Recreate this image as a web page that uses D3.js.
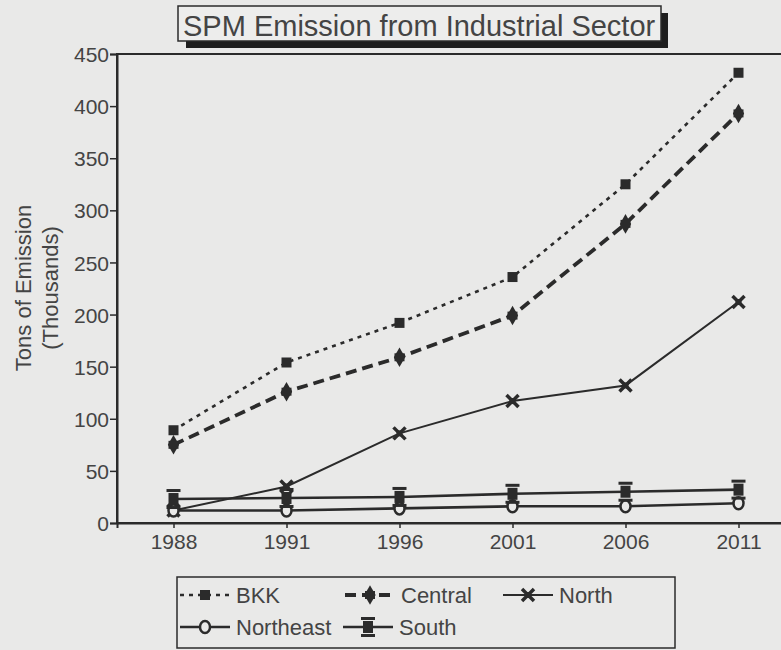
<!DOCTYPE html>
<html lang="en">
<head>
	<meta charset="UTF-8">
	<title>SPM Emission from Industrial Sector</title>
	<script src="https://d3js.org/d3.v7.min.js"></script>
	<style>
		body{margin:0;background:#e9e9e8;overflow:hidden;}
		svg{display:block;}
		text{font-family:"Liberation Sans",Arial,sans-serif;fill:#444;}
	</style>
</head>
<body>
	<script>
		var years = ["1988", "1991", "1996", "2001", "2006", "2011"];
		var names = ["BKK", "Central", "North", "Northeast", "South"];
		var bkk = [89, 154, 192, 236, 325, 432];
		var central = [75, 126, 159, 199, 287, 393];
		var north = [12, 35, 86, 117, 132, 212];
		var northeast = [12, 12, 14, 16, 16, 19];
		var south = [23, 24, 25, 28, 30, 32];
		var yTicks = [0, 50, 100, 150, 200, 250, 300, 350, 400, 450];

		var w = 781;
		var h = 650;
		var ink = "#2b2b2b";

		var series = [
			{name: names[0], values: bkk, dash: "4,5", width: 2.6, mark: "square"},
			{name: names[1], values: central, dash: "11,6", width: 3.8, mark: "diamond"},
			{name: names[2], values: north, dash: null, width: 2, mark: "cross"},
			{name: names[3], values: northeast, dash: null, width: 2.6, mark: "ring"},
			{name: names[4], values: south, dash: null, width: 2.6, mark: "ibeam"}
		];

		var svg = d3.select("body").append("svg")
			.attr("width", w)
			.attr("height", h);

		var x = d3.scalePoint().domain(years).range([117, 795]).padding(0.5);
		var y = d3.scaleLinear().domain([0, 450]).range([523, 54]);

		// frame (right side falls outside the picture)
		svg.append("rect")
			.attr("x", x.range()[0])
			.attr("y", y(450))
			.attr("width", x.range()[1] - x.range()[0])
			.attr("height", y(0) - y(450))
			.attr("fill", "none")
			.attr("stroke", ink)
			.attr("stroke-width", 2);

		var yAxis = svg.append("g")
			.attr("transform", "translate(" + x.range()[0] + ",0)")
			.call(d3.axisLeft(y).tickValues(yTicks).tickSize(7).tickPadding(1));
		var xAxis = svg.append("g")
			.attr("transform", "translate(0," + y(0) + ")")
			.call(d3.axisBottom(x).tickSize(5).tickPadding(6));

		[yAxis, xAxis].forEach(function(a){
			a.select(".domain").attr("stroke", ink).attr("stroke-width", 2);
			a.selectAll(".tick line").attr("stroke", ink).attr("stroke-width", 1.5);
			a.selectAll(".tick text")
				.attr("fill", "#444")
				.style("font-family", "'Liberation Sans',Arial,sans-serif")
				.style("font-size", "21px");
		});
		yAxis.selectAll(".tick text").attr("dy", "0.36em");

		// y label
		var yl = svg.append("g").attr("transform", "translate(0,288) rotate(-90)");
		yl.append("text").attr("x", 0).attr("y", 31).attr("text-anchor", "middle")
			.style("font-size", "22px").text("Tons of Emission");
		yl.append("text").attr("x", 0).attr("y", 58).attr("text-anchor", "middle")
			.style("font-size", "22px").text("(Thousands)");

		// title
		svg.append("rect").attr("x", 186).attr("y", 13).attr("width", 482).attr("height", 35).attr("fill", "#1e1e1e");
		svg.append("rect").attr("x", 178).attr("y", 6).attr("width", 483).attr("height", 35)
			.attr("fill", "#ededec").attr("stroke", ink).attr("stroke-width", 1.5);
		svg.append("text").attr("x", 183).attr("y", 36)
			.style("font-size", "29px").text("SPM Emission from Industrial Sector");

		function marker(g, kind){
			if(kind == "square"){
				g.append("rect").attr("x", -5).attr("y", -5).attr("width", 10).attr("height", 10).attr("fill", ink);
			}
			else if(kind == "diamond"){
				g.append("path").attr("d", d3.symbol(d3.symbolDiamond, 110)()).attr("fill", ink);
				g.append("rect").attr("x", -5).attr("y", -4).attr("width", 10).attr("height", 8).attr("fill", ink);
			}
			else if(kind == "cross"){
				g.append("path").attr("d", "M-6,-6L6,6M6,-6L-6,6").attr("stroke", ink).attr("stroke-width", 3.5);
				g.append("rect").attr("x", -3).attr("y", -3).attr("width", 6).attr("height", 6).attr("fill", ink);
			}
			else if(kind == "ring"){
				g.append("ellipse").attr("rx", 5).attr("ry", 6).attr("fill", "#e9e9e8").attr("stroke", ink).attr("stroke-width", 2.5);
			}
			else if(kind == "ibeam"){
				g.append("rect").attr("x", -7).attr("y", -10).attr("width", 14).attr("height", 3).attr("fill", ink);
				g.append("rect").attr("x", -5).attr("y", -6).attr("width", 10).attr("height", 12).attr("fill", ink);
				g.append("rect").attr("x", -7).attr("y", 7).attr("width", 14).attr("height", 3).attr("fill", ink);
			}
		}

		var line = d3.line()
			.x(function(d, i){ return x(years[i]); })
			.y(function(d){ return y(d); });

		series.forEach(function(s){
			svg.append("path")
				.attr("d", line(s.values))
				.attr("fill", "none")
				.attr("stroke", ink)
				.attr("stroke-width", s.width)
				.attr("stroke-dasharray", s.dash);
		});
		series.forEach(function(s){
			s.values.forEach(function(v, i){
				var g = svg.append("g").attr("transform", "translate(" + x(years[i]) + "," + y(v) + ")");
				marker(g, s.mark);
			});
		});

		// legend
		var legPos = [[180, 595], [345, 595], [503, 595], [180, 627], [343, 627]];
		svg.append("rect").attr("x", 177).attr("y", 577).attr("width", 498).attr("height", 71)
			.attr("fill", "none").attr("stroke", ink).attr("stroke-width", 1.5);
		series.forEach(function(s, i){
			var p = legPos[i];
			var g = svg.append("g").attr("transform", "translate(" + p[0] + "," + p[1] + ")");
			g.append("line").attr("x1", 0).attr("x2", 50).attr("y1", 0).attr("y2", 0)
				.attr("stroke", ink).attr("stroke-width", s.width).attr("stroke-dasharray", s.dash);
			var m = g.append("g").attr("transform", "translate(25,0)");
			marker(m, s.mark);
			g.append("text").attr("x", 56).attr("y", 8).style("font-size", "22px").text(s.name);
		});
	</script>
</body>
</html>
